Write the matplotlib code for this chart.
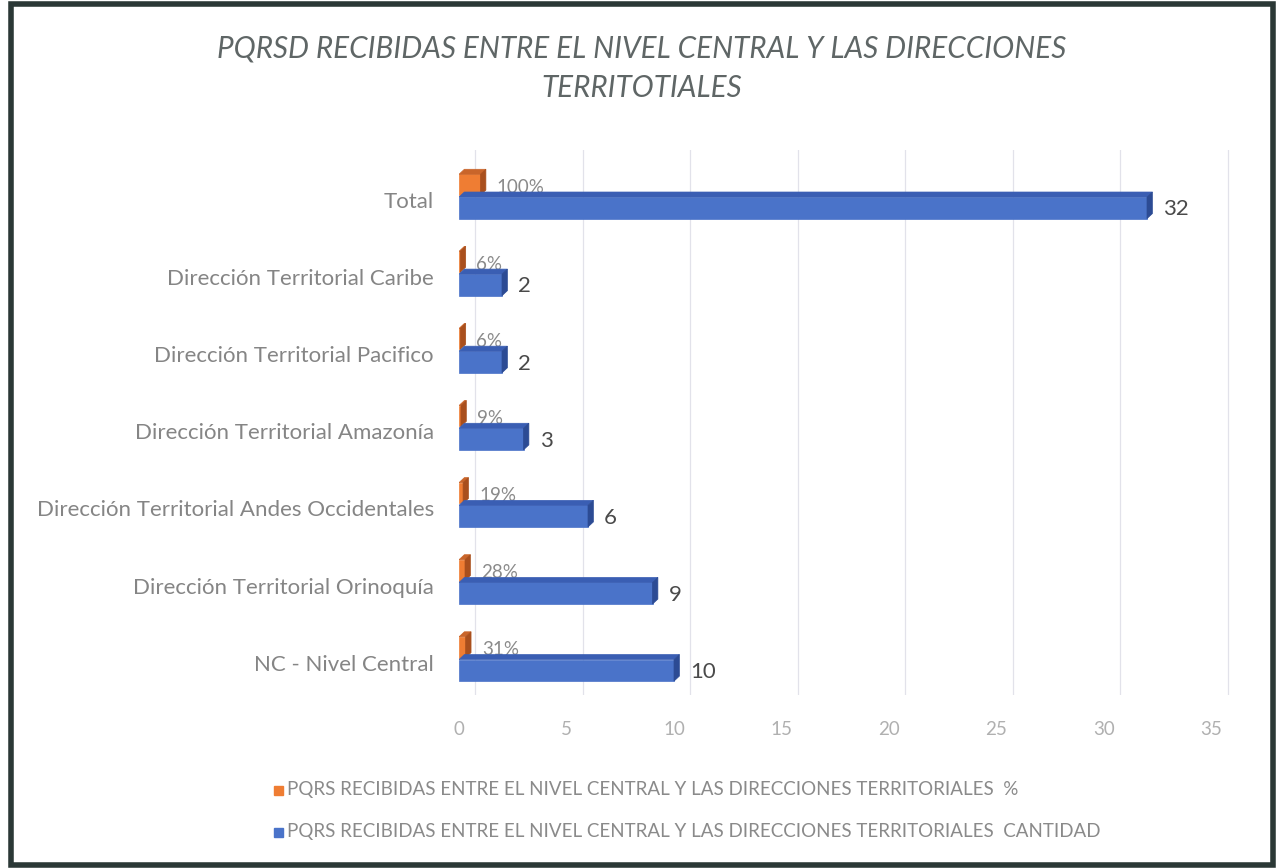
import matplotlib
matplotlib.use("Agg")
import matplotlib.pyplot as plt
from matplotlib.patches import Polygon, Rectangle

plt.rcParams['font.family'] = ['Lato', 'DejaVu Sans']

categorias = ['NC - Nivel Central', 'Dirección Territorial Orinoquía',
              'Dirección Territorial Andes Occidentales', 'Dirección Territorial Amazonía',
              'Dirección Territorial Pacifico', 'Dirección Territorial Caribe', 'Total']
cantidad = [10, 9, 6, 3, 2, 2, 32]
porcentaje = [0.31, 0.28, 0.19, 0.09, 0.06, 0.06, 1.00]
etiquetas_pct = ['31%', '28%', '19%', '9%', '6%', '6%', '100%']
ticks_x = [0, 5, 10, 15, 20, 25, 30, 35]

titulo = 'PQRSD RECIBIDAS ENTRE EL NIVEL CENTRAL Y LAS DIRECCIONES\nTERRITOTIALES'
leyenda = ['PQRS RECIBIDAS ENTRE EL NIVEL CENTRAL Y LAS DIRECCIONES TERRITORIALES  %',
           'PQRS RECIBIDAS ENTRE EL NIVEL CENTRAL Y LAS DIRECCIONES TERRITORIALES  CANTIDAD']

AZUL = ('#4a73c9', '#3a5eb3', '#2c4b94')
NARANJA = ('#ef7d33', '#c9652a', '#a94f1d')
DX, DY = 0.25, 0.065


def barra_3d(ax, yc, w, h, colores, z):
    front, top, side = colores
    ax.barh(yc, w, height=h, color=front, edgecolor=front, linewidth=0.5, zorder=z)
    y0, y1 = yc - h / 2, yc + h / 2
    ax.add_patch(Polygon([(0, y1), (w, y1), (w + DX, y1 + DY), (DX, y1 + DY)],
                         closed=True, facecolor=top, edgecolor=top, lw=0.5, zorder=z))
    ax.add_patch(Polygon([(w, y0), (w + DX, y0 + DY), (w + DX, y1 + DY), (w, y1)],
                         closed=True, facecolor=side, edgecolor=side, lw=0.5, zorder=z))


fig = plt.figure(figsize=(12.78, 8.68), dpi=100)
ax = fig.add_axes([459 / 1278, 1 - 695 / 868, 774 / 1278, 545 / 868])
ax.set_xlim(0, 36)
ax.set_ylim(-0.42, 6.65)

# back wall grid (shifted like the 3D original)
for t in ticks_x:
    ax.axvline(t + 0.75, color='#e2e2ea', lw=0.9, zorder=0)

for i in range(len(categorias)):
    barra_3d(ax, i + 0.2, porcentaje[i], 0.27, NARANJA, 2)
    ax.text(porcentaje[i] + 0.75, i + 0.17, etiquetas_pct[i], fontsize=13.5,
            color='#8a8a8a', va='center', ha='left', zorder=3)
    barra_3d(ax, i - 0.1, cantidad[i], 0.28, AZUL, 4)
    ax.text(cantidad[i] + 0.75, i - 0.12, str(cantidad[i]), fontsize=16,
            color='#4a4a4a', va='center', ha='left', zorder=5)

ax.set_yticks(range(len(categorias)))
ax.set_yticklabels(categorias, fontsize=16, color='#858585')
ax.set_xticks(ticks_x)
ax.set_xticklabels([str(t) for t in ticks_x], fontsize=13.5, color='#b0b0b0')
ax.tick_params(axis='y', length=0, pad=18)
ax.tick_params(axis='x', length=0, pad=19)
for s in ax.spines.values():
    s.set_visible(False)

fig.text(642 / 1278, 1 - 68 / 868, titulo, ha='center', va='center', fontsize=21.3,
         style='italic', color='#5f6666', linespacing=1.5)

for k, (txt, col) in enumerate(zip(leyenda, [NARANJA[0], AZUL[0]])):
    yy = 1 - (790 + 42 * k) / 868
    fig.patches.append(Rectangle((274 / 1278, yy - 4.5 / 868), 9 / 1278, 9 / 868,
                                 transform=fig.transFigure, color=col))
    fig.text(287 / 1278, yy, txt, ha='left', va='center', fontsize=13.5,
             color='#8a8a8a')

# scanned frame
fig.patches.append(Rectangle((11 / 1278, 3 / 868), 1262 / 1278, 861 / 868,
                             transform=fig.transFigure, fill=False,
                             edgecolor='#2b3836', lw=4))

fig.savefig('out.png', dpi=100)
